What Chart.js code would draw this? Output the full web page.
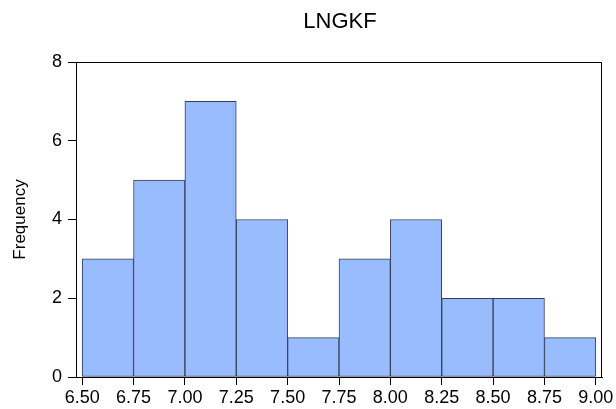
<!DOCTYPE html>
<html>
<head>
<meta charset="utf-8">
<script src="https://cdn.jsdelivr.net/npm/chart.js@4/dist/chart.umd.min.js"></script>
<style>
  html, body { margin: 0; padding: 0; background: #ffffff; }
  #wrap { width: 616px; height: 409px; }
</style>
</head>
<body>
<div id="wrap"><canvas id="hist" width="616" height="409"></canvas></div>
<script>
// Histogram of LNGKF: bin edges and counts per bin
const chartTitle = 'LNGKF';
const yAxisLabel = 'Frequency';
const binEdges = [6.50, 6.75, 7.00, 7.25, 7.50, 7.75, 8.00, 8.25, 8.50, 8.75, 9.00];
const binCounts = [3, 5, 7, 4, 1, 3, 4, 2, 2, 1];
const yTicks = [0, 2, 4, 6, 8];

const FONT = "'Liberation Sans', Arial, sans-serif";

// each bar sits at the middle of its bin
const barPoints = binCounts.map((c, i) => ({ x: (binEdges[i] + binEdges[i + 1]) / 2, y: c }));

// closes the plot frame and writes the title over the plot area
const framePlugin = {
  id: 'frame',
  afterDraw(chart) {
    const { ctx, chartArea: a } = chart;
    ctx.save();
    ctx.strokeStyle = '#000';
    ctx.lineWidth = 1;
    ctx.beginPath();
    ctx.rect(Math.round(a.left) + 0.5, Math.round(a.top) + 0.5,
             Math.round(a.right - a.left) - 1, Math.round(a.bottom - a.top));
    ctx.stroke();
    ctx.fillStyle = '#000';
    ctx.font = '22px ' + FONT;
    ctx.textAlign = 'center';
    ctx.textBaseline = 'alphabetic';
    ctx.fillText(chartTitle, (a.left + a.right) / 2 + 1, 28);
    ctx.restore();
  }
};

new Chart(document.getElementById('hist'), {
  type: 'bar',
  data: {
    datasets: [{
      data: barPoints,
      backgroundColor: '#99bbff',
      borderColor: '#34405a',
      borderWidth: 1,
      barPercentage: 1,
      categoryPercentage: 1,
      borderSkipped: false
    }]
  },
  options: {
    responsive: false,
    animation: false,
    devicePixelRatio: 1,
    layout: { padding: { left: 0, top: 62, right: 14, bottom: 0 } },
    plugins: { legend: { display: false }, tooltip: { enabled: false }, title: { display: false } },
    scales: {
      x: {
        type: 'linear',
        min: 6.47,
        max: 9.03,
        offset: false,
        afterBuildTicks(axis) { axis.ticks = binEdges.map(v => ({ value: v })); },
        afterFit(axis) { axis.height = 32; },
        ticks: {
          color: '#000',
          font: { family: FONT, size: 18 },
          padding: 2,
          maxRotation: 0,
          autoSkip: false,
          callback: v => Number(v).toFixed(2)
        },
        grid: { offset: false, drawOnChartArea: false, drawTicks: true, tickLength: 8, color: '#000', lineWidth: 1 },
        border: { display: true, color: '#000', width: 1 }
      },
      y: {
        min: 0,
        max: 8,
        afterBuildTicks(axis) { axis.ticks = yTicks.map(v => ({ value: v })); },
        afterFit(axis) { axis.width = 76; },
        ticks: {
          color: '#000',
          font: { family: FONT, size: 18 },
          padding: 6,
          callback: v => String(v)
        },
        grid: { drawOnChartArea: false, drawTicks: true, tickLength: 8, color: '#000', lineWidth: 1 },
        border: { display: true, color: '#000', width: 1 },
        title: {
          display: true,
          text: yAxisLabel,
          color: '#000',
          font: { family: FONT, size: 17 },
          padding: { top: 10, bottom: 0 }
        }
      }
    }
  },
  plugins: [framePlugin]
});
</script>
</body>
</html>
